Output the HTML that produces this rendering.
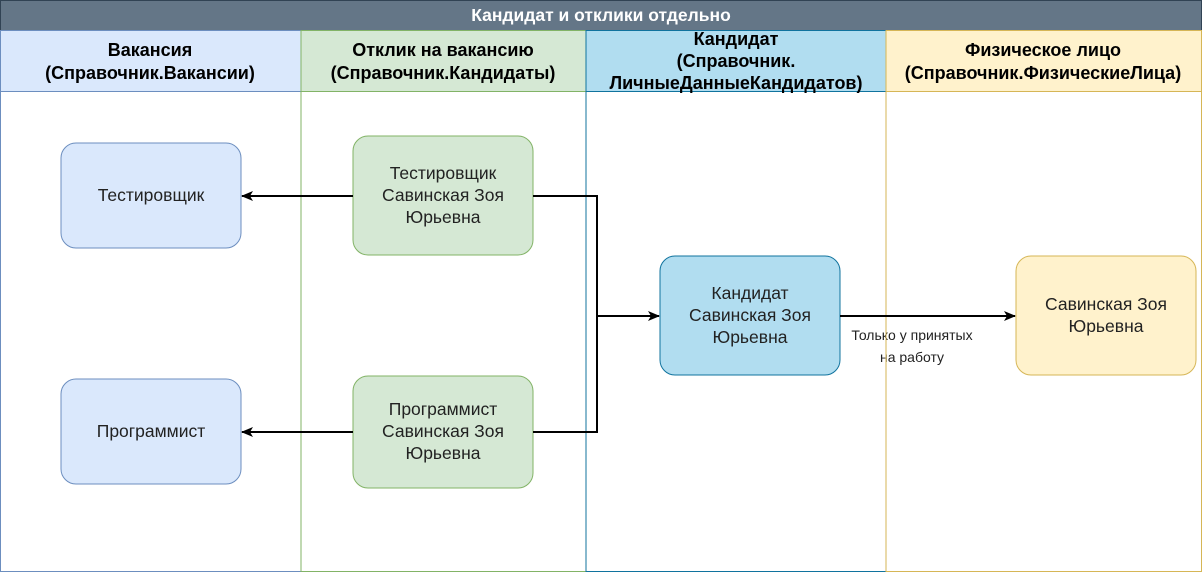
<!DOCTYPE html>
<html><head><meta charset="utf-8"><style>
html,body{margin:0;padding:0;background:#fff;}
svg{display:block;font-family:"Liberation Sans",Arial,sans-serif;}
</style></head><body>
<svg width="1203" height="573" viewBox="0 0 1203 573" xmlns="http://www.w3.org/2000/svg">
<defs><marker id="a" markerWidth="12" markerHeight="10" refX="11" refY="5" orient="auto" markerUnits="userSpaceOnUse"><path d="M0,0 L12,5 L0,10 L3,5 Z" fill="#000"/></marker></defs>
<rect x="0.5" y="0.5" width="1201" height="30" fill="#647687" stroke="#314354"/>
<text x="601" y="21" text-anchor="middle" font-size="17.5" font-weight="bold" fill="#fff">Кандидат и отклики отдельно</text>
<rect x="0.5" y="30.5" width="300.5" height="61" fill="#dae8fc" stroke="#6c8ebf"/>
<rect x="0.5" y="91.5" width="300.5" height="480" fill="#fff" stroke="#6c8ebf"/>
<rect x="301" y="30.5" width="285" height="61" fill="#d5e8d4" stroke="#82b366"/>
<rect x="301" y="91.5" width="285" height="480" fill="#fff" stroke="#82b366"/>
<rect x="586" y="30.5" width="300" height="61" fill="#b1ddf0" stroke="#10739e"/>
<rect x="586" y="91.5" width="300" height="480" fill="#fff" stroke="#10739e"/>
<rect x="886" y="30.5" width="315.5" height="61" fill="#fff2cc" stroke="#d6b656"/>
<rect x="886" y="91.5" width="315.5" height="480" fill="#fff" stroke="#d6b656"/>
<g font-size="18" font-weight="bold" fill="#000" text-anchor="middle">
<text x="150" y="56">Вакансия</text><text x="150" y="79">(Справочник.Вакансии)</text>
<text x="443" y="56">Отклик на вакансию</text><text x="443" y="79">(Справочник.Кандидаты)</text>
<text x="736" y="45">Кандидат</text><text x="736" y="67">(Справочник.</text><text x="736" y="89">ЛичныеДанныеКандидатов)</text>
<text x="1043" y="56">Физическое лицо</text><text x="1043" y="79">(Справочник.ФизическиеЛица)</text>
</g>
<rect x="61" y="143" width="180" height="105" rx="15" fill="#dae8fc" stroke="#6c8ebf"/>
<rect x="61" y="379" width="180" height="105" rx="15" fill="#dae8fc" stroke="#6c8ebf"/>
<rect x="353" y="136" width="180" height="119" rx="15" fill="#d5e8d4" stroke="#82b366"/>
<rect x="353" y="376" width="180" height="112" rx="15" fill="#d5e8d4" stroke="#82b366"/>
<rect x="660" y="256" width="180" height="119" rx="15" fill="#b1ddf0" stroke="#10739e"/>
<rect x="1016" y="256" width="180" height="119" rx="15" fill="#fff2cc" stroke="#d6b656"/>
<g font-size="17.5" fill="#222" text-anchor="middle">
<text x="151" y="201">Тестировщик</text>
<text x="151" y="437">Программист</text>
<text x="443" y="179">Тестировщик</text><text x="443" y="201">Савинская Зоя</text><text x="443" y="223">Юрьевна</text>
<text x="443" y="415">Программист</text><text x="443" y="437">Савинская Зоя</text><text x="443" y="459">Юрьевна</text>
<text x="750" y="299">Кандидат</text><text x="750" y="321">Савинская Зоя</text><text x="750" y="343">Юрьевна</text>
<text x="1106" y="310">Савинская Зоя</text><text x="1106" y="332">Юрьевна</text>
</g>
<g stroke="#000" stroke-width="2" fill="none">
<path d="M353,196 H242" marker-end="url(#a)"/>
<path d="M353,432 H242" marker-end="url(#a)"/>
<path d="M533,196 H597 V316 H659" marker-end="url(#a)"/>
<path d="M533,432 H597 V316"/>
<path d="M840,316 H1015" marker-end="url(#a)"/>
</g>
<rect x="852" y="325" width="120" height="42" fill="#fff"/>
<g font-size="14" fill="#222" text-anchor="middle">
<text x="912" y="340">Только у принятых</text><text x="912" y="362">на работу</text>
</g>
<line x1="886" y1="325" x2="886" y2="367" stroke="#d6b656"/>
</svg>
</body></html>
